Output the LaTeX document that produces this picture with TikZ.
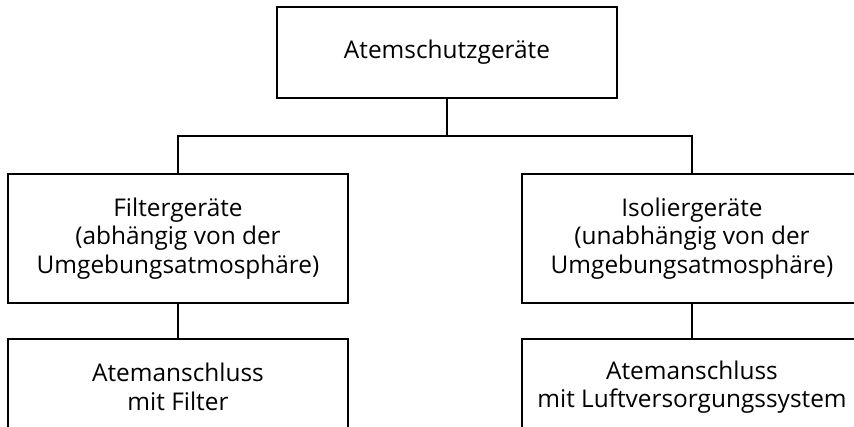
\documentclass[tikz,border=0pt]{standalone}
\usepackage{fontspec}
\setmainfont{Open Sans}

\tikzset{
  geraetbox/.style={draw, line width=0.9pt, rectangle, align=center, inner sep=0.75pt,
    minimum width=255pt, font=\fontsize{18.3}{21.4}\selectfont},
  ast/.style={line width=0.9pt}
}

\begin{document}
\begin{tikzpicture}[x=0.75pt,y=0.75pt,yscale=-1,xscale=1]
\useasboundingbox (0,0) rectangle (854,427);
\clip (0,0) rectangle (854,427);

%Top box
\node [geraetbox, minimum height=68.25pt] (schutz) at (447,52.5) {Atemschutzger\"ate};

%Second row
\node [geraetbox, minimum height=96.75pt] (filter) at (178,238.5) {Filterger\"ate\\(abh\"angig von der\\Umgebungsatmosph\"are)};
\node [geraetbox, minimum height=96.75pt] (isolier) at (692,238.5) {Isolierger\"ate\\(unabh\"angig von der\\Umgebungsatmosph\"are)};

%Third row
\node [geraetbox, minimum height=72pt] (filteranschluss) at (178,387) {Atemanschluss\\mit Filter};
\node [geraetbox, minimum height=72pt] (luftanschluss) at (692,387) {Atemanschluss\\mit Luftversorgungssystem};

%Connectors
\coordinate (gabel) at (447,136);
\draw [ast] (schutz) -- (gabel);
\draw [ast] (gabel) -| (filter);
\draw [ast] (gabel) -| (isolier);
\draw [ast] (filter) -- (filteranschluss);
\draw [ast] (isolier) -- (luftanschluss);

\end{tikzpicture}
\end{document}
